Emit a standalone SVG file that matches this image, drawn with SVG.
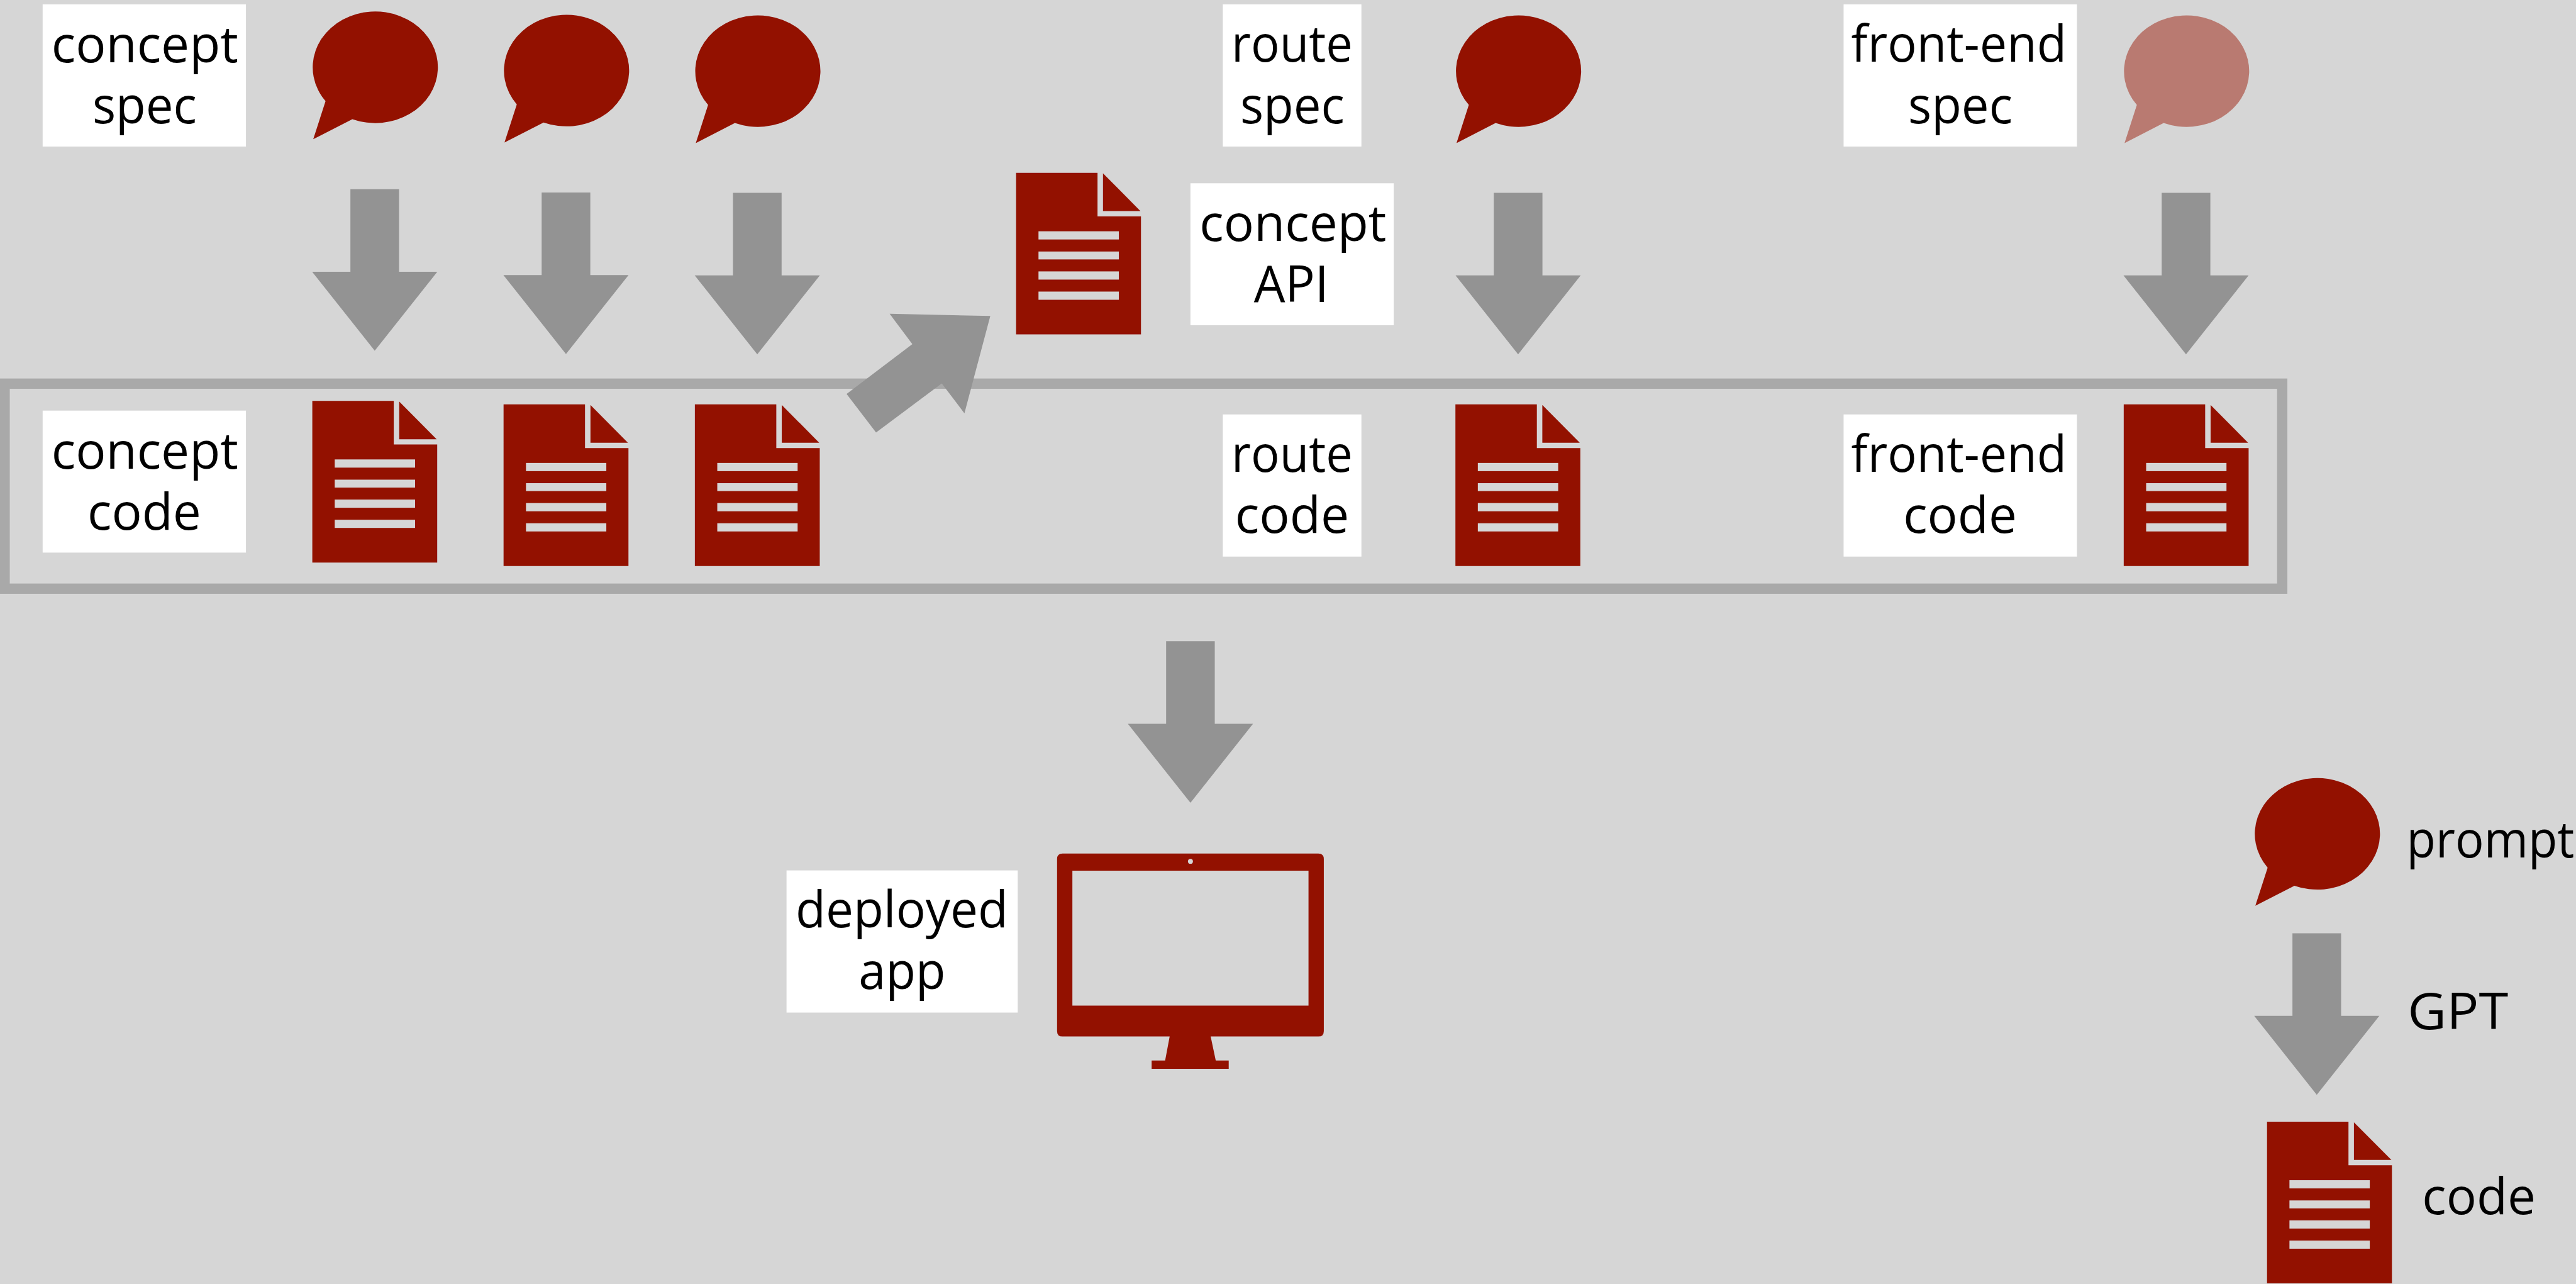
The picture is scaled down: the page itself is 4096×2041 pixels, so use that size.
<svg xmlns="http://www.w3.org/2000/svg" xmlns:xlink="http://www.w3.org/1999/xlink" width="4096" height="2041" viewBox="0 0 4096 2041">
<style>
.bg{fill:#d6d6d6}
.red{fill:#931100}
.faded{fill:#b97a71}
.gray{fill:#939393}
.box{fill:#fff}
.frame{fill:none;stroke:#a9a9a9;stroke-width:18.8}
text{font-family:"Open Sans","Liberation Sans",sans-serif;font-size:92px;fill:#000}
</style>
<defs>
<path id="bubble" d="M-90,62 A114.5,102 0 1 1 -41,95 L-112.5,131.7 Z"/>
<g id="doc">
<path class="red" d="M0,0 H149 V79.7 H228.5 V295.7 H0 Z M159,1 V70 H227.5 Z"/>
<rect class="bg" x="41" y="107" width="147" height="15"/>
<rect class="bg" x="41" y="144" width="147" height="14.5"/>
<rect class="bg" x="41" y="180.4" width="147" height="15"/>
<rect class="bg" x="41" y="217.3" width="147" height="15"/>
</g>
<path id="arrow" d="M-44.5,0 H44.5 V151 H114.5 L0,295.5 L-114.5,151 H-44.5 Z"/>
</defs>
<g transform="scale(0.86909)">
<rect class="bg" width="4713" height="2349"/>
<rect id="code-frame" class="frame" x="8.5" y="701.7" width="4167" height="375"/>
<g id="connectors" class="gray">
<use href="#arrow" x="685.6" y="346"/>
<use href="#arrow" x="1035.5" y="352"/>
<use href="#arrow" x="1385.5" y="352.6"/>
<use href="#arrow" x="2777.5" y="352.6"/>
<use href="#arrow" x="3999.5" y="352.6"/>
<use href="#arrow" x="2178" y="1172.8"/>
<use href="#arrow" x="4238.7" y="1707"/>
<path d="M1548.9,720.7 L1669.2,629.5 L1627.7,574 L1811.8,578 L1764.5,756 L1723,701.2 L1602.8,791.2 Z"/>
</g>
<g id="label-concept-spec">
<rect class="box" x="78" y="8" width="372" height="260"/>
<text x="94" y="113.7" textLength="342" lengthAdjust="spacingAndGlyphs">concept</text>
<text x="169" y="225.7" textLength="191" lengthAdjust="spacingAndGlyphs">spec</text>
</g>
<g id="prompt-1"><use href="#bubble" class="red" x="685.6" y="123"/></g>
<g id="prompt-2"><use href="#bubble" class="red" x="1035.5" y="129"/></g>
<g id="prompt-3"><use href="#bubble" class="red" x="1385.5" y="130"/></g>
<g id="label-route-spec">
<rect class="box" x="2237.2" y="8" width="253.6" height="260"/>
<text x="2253" y="112.8" textLength="222" lengthAdjust="spacingAndGlyphs">route</text>
<text x="2269" y="225" textLength="191" lengthAdjust="spacingAndGlyphs">spec</text>
</g>
<g id="prompt-route"><use href="#bubble" class="red" x="2777.3" y="130"/></g>
<g id="label-frontend-spec">
<rect class="box" x="3373" y="8" width="427" height="260"/>
<text x="3387" y="112.8" textLength="394" lengthAdjust="spacingAndGlyphs">front-end</text>
<text x="3491" y="225" textLength="191" lengthAdjust="spacingAndGlyphs">spec</text>
</g>
<g id="prompt-frontend"><use href="#bubble" class="faded" x="3999.5" y="130"/></g>
<g id="doc-concept-api"><use href="#doc" x="1859" y="316"/></g>
<g id="label-concept-api">
<rect class="box" x="2178" y="335.2" width="372" height="259.7"/>
<text x="2194.5" y="440.5" textLength="342" lengthAdjust="spacingAndGlyphs">concept</text>
<text x="2294" y="552" textLength="137" lengthAdjust="spacingAndGlyphs">API</text>
</g>
<g id="label-concept-code">
<rect class="box" x="78" y="751" width="372" height="259.7"/>
<text x="94" y="856.7" textLength="342" lengthAdjust="spacingAndGlyphs">concept</text>
<text x="160" y="968.3" textLength="208" lengthAdjust="spacingAndGlyphs">code</text>
</g>
<g id="doc-1"><use href="#doc" x="571.4" y="733.3"/></g>
<g id="doc-2"><use href="#doc" x="921.3" y="739.7"/></g>
<g id="doc-3"><use href="#doc" x="1271.3" y="739.7"/></g>
<g id="label-route-code">
<rect class="box" x="2237.2" y="758" width="253.6" height="260"/>
<text x="2253" y="862.7" textLength="222" lengthAdjust="spacingAndGlyphs">route</text>
<text x="2259.5" y="975" textLength="209" lengthAdjust="spacingAndGlyphs">code</text>
</g>
<g id="doc-route"><use href="#doc" x="2662.8" y="739.7"/></g>
<g id="label-frontend-code">
<rect class="box" x="3373" y="758" width="427" height="260"/>
<text x="3387" y="862.7" textLength="394" lengthAdjust="spacingAndGlyphs">front-end</text>
<text x="3482" y="975" textLength="208" lengthAdjust="spacingAndGlyphs">code</text>
</g>
<g id="doc-frontend"><use href="#doc" x="3885.5" y="739.7"/></g>
<g id="label-deployed-app">
<rect class="box" x="1439" y="1592" width="423" height="260"/>
<text x="1455.5" y="1696.6" textLength="389" lengthAdjust="spacingAndGlyphs">deployed</text>
<text x="1571" y="1808.6" textLength="159" lengthAdjust="spacingAndGlyphs">app</text>
</g>
<g id="monitor">
<path class="red" fill-rule="evenodd" d="M1944,1561 H2412 Q2422,1561 2422,1571 V1885.8 Q2422,1895.8 2412,1895.8 H2215 L2224.3,1939.6 H2248 V1955 H2107 V1939.6 H2131.7 L2140,1895.8 H1944 Q1934,1895.8 1934,1885.8 V1571 Q1934,1561 1944,1561 Z M1962,1592.4 V1839.3 H2394 V1592.4 Z"/>
<ellipse class="bg" cx="2178" cy="1575.4" rx="4.5" ry="4.5"/>
</g>
<g id="legend-prompt">
<use href="#bubble" class="red" x="4238.8" y="1525"/>
<text x="4403" y="1568.3" textLength="307" lengthAdjust="spacingAndGlyphs">prompt</text>
</g>
<g id="legend-gpt">
<text x="4405" y="1883" textLength="184" lengthAdjust="spacingAndGlyphs">GPT</text>
</g>
<g id="legend-code">
<use href="#doc" x="4147.7" y="2051.6"/>
<text x="4431.5" y="2220.7" textLength="208" lengthAdjust="spacingAndGlyphs">code</text>
</g>
</g>
</svg>
